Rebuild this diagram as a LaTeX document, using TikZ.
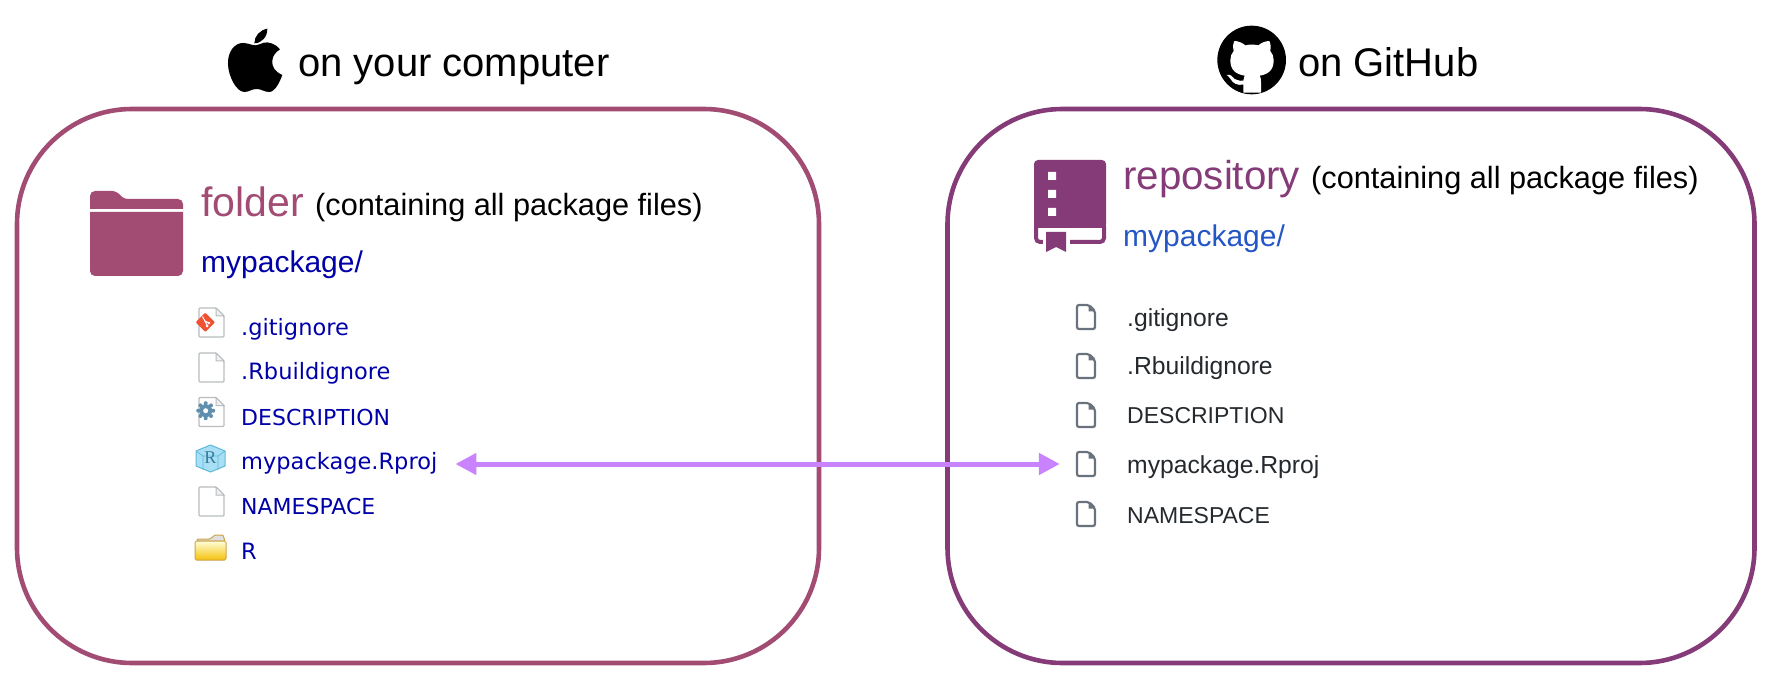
\documentclass[tikz,border=0pt]{standalone}
\usepackage{fontspec}
\setmainfont{Liberation Sans}
\newfontfamily\listfont{DejaVu Sans}
\newfontfamily\cubefont{Liberation Serif}
\usetikzlibrary{positioning}
\usetikzlibrary{arrows.meta}
\definecolor{folderplum}{HTML}{A24C73}
\definecolor{repoplum}{HTML}{853B77}
\definecolor{rstudioblue}{HTML}{0000A8}
\definecolor{ghblue}{HTML}{2457C5}
\definecolor{ghgrey}{HTML}{6A737D}
\definecolor{ghtext}{HTML}{24292E}
\definecolor{linkarrow}{HTML}{C983FF}
\definecolor{iconedge}{HTML}{B9BDC0}
\definecolor{gitorange}{HTML}{F05133}
\definecolor{gearblue}{HTML}{5F8FAF}
\definecolor{cubeblue}{HTML}{A9DFF5}
\definecolor{cubeedge}{HTML}{5CBAD8}
\definecolor{cubeletter}{HTML}{3A7A9F}
\definecolor{tanedge}{HTML}{CFA24C}
\tikzset{
	pkgbox/.style={draw,line width=4.6pt,rounded corners=115pt,inner sep=0pt},
	heading/.style={anchor=base west,inner sep=0pt,font=\fontsize{40}{48}\selectfont},
	boxname/.style={anchor=base west,inner sep=0pt,font=\fontsize{41}{48}\selectfont},
	reponame/.style={anchor=base west,inner sep=0pt,font=\fontsize{40.3}{48}\selectfont},
	note/.style={anchor=base west,inner sep=0pt,font=\fontsize{30.7}{36}\selectfont},
	pkgname/.style={anchor=base west,inner sep=0pt,font=\fontsize{30}{36}\selectfont},
	rfile/.style={anchor=base west,inner sep=0pt,text=rstudioblue,font=\listfont\fontsize{22.5}{27}\selectfont},
	rfilecaps/.style={rfile,font=\listfont\fontsize{22}{27}\selectfont},
	ghfile/.style={anchor=base west,inner sep=0pt,text=ghtext,font=\fontsize{24.7}{29}\selectfont},
	ghfilecaps/.style={ghfile,font=\fontsize{23}{29}\selectfont},
	blankpage/.pic={
		\draw[iconedge,line width=1.4pt,fill=white,rounded corners=1pt] (-12.5,-14.5) -- (4.5,-14.5) -- (12.5,-6.5) -- (12.5,14.5) -- (-12.5,14.5) -- cycle;
		\draw[iconedge,line width=1pt,fill=black!6] (4.5,-14.5) -- (4.5,-6.5) -- (12.5,-6.5) -- cycle;
	},
	ghpage/.pic={
		\draw[ghgrey,line width=2.2pt,rounded corners=2pt] (-9,-12) -- (3,-12) -- (9,-6) -- (9,12) -- (-9,12) -- cycle;
		\fill[ghgrey] (2.5,-11) -- (2.5,-5.5) -- (8,-5.5) -- cycle;
	},
}
\begin{document}
\begin{tikzpicture}[x=1pt,y=-1pt]
	\useasboundingbox (0,0) rectangle (1772,700);

	% the two rounded boxes
	\node[pkgbox,color=folderplum,minimum width=802pt,minimum height=554pt] (computer) at (418,386) {};
	\node[pkgbox,color=repoplum,minimum width=807pt,minimum height=554pt] (github) at (1351,386) {};

	% titles
	\node[heading] (computertitle) at (298,77) {on your computer};
	\node[heading] (githubtitle) at (1298,77) {on GitHub};

	% apple logo
	\begin{scope}[shift={(60,20)},x=.3333pt,y=-.3333pt]
		\fill (588,76) .. controls (572,76) and (555,65) .. (540,70)
			.. controls (515,77) and (503,105) .. (504,132)
			.. controls (505,170) and (530,216) .. (553,216)
			.. controls (567,216) and (575,207) .. (590,207)
			.. controls (605,207) and (612,216) .. (628,216)
			.. controls (645,216) and (660,185) .. (667,165)
			.. controls (645,155) and (635,140) .. (637,122)
			.. controls (638,105) and (650,95) .. (660,88)
			.. controls (645,70) and (625,65) .. (612,68)
			.. controls (602,70) and (595,76) .. (588,76) -- cycle;
		\fill (583,70) .. controls (583,48) and (600,30) .. (622,26)
			.. controls (623,50) and (605,70) .. (583,70) -- cycle;
	\end{scope}

	% github logo
	\begin{scope}[shift={(1200,15)},x=.3333pt,y=-.3333pt]
		\fill (155,135) circle[radius=103];
		\fill[white] (103,78) .. controls (115,78) and (128,84) .. (136,91)
			.. controls (148,88) and (163,88) .. (175,91)
			.. controls (183,84) and (196,78) .. (208,78)
			.. controls (213,90) and (213,100) .. (211,108)
			.. controls (218,116) and (221,125) .. (221,136)
			.. controls (221,165) and (205,178) .. (179,182)
			.. controls (182,186) and (183,192) .. (183,200) -- (183,233) -- (130,233) -- (130,208)
			.. controls (112,212) and (100,205) .. (92,192)
			.. controls (88,186) and (84,182) .. (80,180)
			.. controls (92,176) and (98,186) .. (104,192)
			.. controls (112,198) and (122,197) .. (130,195)
			.. controls (130,190) and (132,186) .. (134,182)
			.. controls (108,178) and (91,165) .. (91,136)
			.. controls (91,125) and (94,116) .. (101,108)
			.. controls (98,100) and (98,90) .. (103,78) -- cycle;
		\fill (100,184) .. controls (108,192) and (115,198) .. (130,197) -- (130,188) .. controls (118,188) and (112,182) .. (100,176) -- cycle;
		\fill[white] (84,181) .. controls (96,180) and (100,194) .. (112,200) .. controls (118,203) and (124,203) .. (130,202) -- (130,208) .. controls (112,212) and (100,205) .. (92,192) -- cycle;
	\end{scope}

	% big folder icon
	\fill[folderplum] (90,209) [rounded corners=5pt] -- (90,191) -- (117,191) -- (123,199) -- (183,199) [sharp corners] -- (183,209) -- cycle;
	\fill[folderplum] (90,212) [rounded corners=5pt] -- (90,276) -- (183,276) [sharp corners] -- (183,212) -- cycle;
	\node[boxname,text=folderplum] (foldertext) at (201,217) {folder};
	\node[note] (foldernote) at (315,216) {(containing all package files)};
	\node[pkgname,text=rstudioblue] (foldername) at (201,273) {mypackage/};

	% big repository icon
	\fill[repoplum,rounded corners=4pt] (1034,228) -- (1034,160) -- (1106,160) -- (1106,228) -- cycle;
	\fill[repoplum] (1034,220) rectangle (1106,228);
	\draw[repoplum,line width=4pt,rounded corners=4pt] (1036,226) -- (1036,242) -- (1104,242) -- (1104,226);
	\fill[white] (1043,236) rectangle (1070,246);
	\fill[white] (1048,172) rectangle (1056,180) (1048,190) rectangle (1056,198) (1048,208) rectangle (1056,216);
	\fill[repoplum] (1046,232) -- (1066,232) -- (1066,252) -- (1056,247) -- (1046,252) -- cycle;
	\node[reponame,text=repoplum] (repotext) at (1123,190) {repository};
	\node[note] (reponote) at (1311,189) {(containing all package files)};
	\node[pkgname,text=ghblue] (reponame) at (1123,247) {mypackage/};

	% files on the computer
	\pic at (211.5,322.5) {blankpage};
	\fill[gitorange,rounded corners=1pt] (205.3,312.6) -- (215,322.3) -- (205.3,332) -- (195.6,322.3) -- cycle;
	\draw[white,line width=1pt] (202.5,316.5) -- (207,325) (205,321) -- (209,323);
	\fill[white] (207,326) circle[radius=1.5] (209,323) circle[radius=1.3];
	\node[rfile] (rgitignore) at (241,336) {.gitignore};

	\pic at (211.5,367.5) {blankpage};
	\node[rfile] (rbuildignore) at (241,380) {.Rbuildignore};

	\pic at (211.5,412) {blankpage};
	\foreach \a in {0,45,...,315}
		\fill[gearblue] (205.7,410.7)++(\a:7.5) circle[radius=2];
	\fill[gearblue] (205.7,410.7) circle[radius=6.5];
	\fill[white] (205.7,410.7) circle[radius=2.5];
	\node[rfilecaps] (rdescription) at (241,425) {DESCRIPTION};

	\draw[cubeedge,line width=1pt,fill=cubeblue] (196,451) -- (210.5,445) -- (225,451) -- (225,466) -- (210.5,472) -- (196,466) -- cycle;
	\draw[cubeedge,line width=.7pt] (196,451) -- (203,456) -- (218,456) -- (225,451) (203,456) -- (203,470) (218,456) -- (218,470);
	\node[inner sep=0pt,text=cubeletter,font=\cubefont\fontsize{18}{18}\selectfont] (rcube) at (210.5,458) {R};
	\node[rfile] (rproj) at (241,469) {mypackage.Rproj};

	\pic at (211.5,501.5) {blankpage};
	\node[rfilecaps] (rnamespace) at (241,514) {NAMESPACE};

	\draw[tanedge,line width=1pt,fill=black!12,rounded corners=1pt] (197,541) -- (197,539) -- (210,539) -- (215,535) -- (223,535) -- (225,541) -- cycle;
	\draw[tanedge,line width=1pt,top color=yellow!15,bottom color=yellow!60!orange!85!brown,rounded corners=1.5pt] (195,541) -- (226,541) -- (226,560) -- (195,560) -- cycle;
	\node[rfile] (rfolder) at (241,559) {R};

	% files on github
	\pic at (1086,317) {ghpage};
	\node[ghfile] (ghgitignore) at (1127,327) {.gitignore};
	\pic at (1086,366) {ghpage};
	\node[ghfile] (ghbuildignore) at (1127,375) {.Rbuildignore};
	\pic at (1086,415) {ghpage};
	\node[ghfilecaps] (ghdescription) at (1127,423) {DESCRIPTION};
	\node[inner sep=0pt,minimum width=20pt,minimum height=25pt] (ghproj) at (1086,464) {};
	\pic at (ghproj) {ghpage};
	\node[ghfile] (ghprojtext) at (1127,473) {mypackage.Rproj};
	\pic at (1086,514) {ghpage};
	\node[ghfilecaps] (ghnamespace) at (1127,523) {NAMESPACE};

	% same file in both places
	\draw[{Triangle[length=21pt,width=21pt]}-{Triangle[length=21pt,width=21pt]},linkarrow,line width=5pt,shorten <=18pt,shorten >=16pt] (rproj.east |- ghproj) -- (ghproj);
\end{tikzpicture}
\end{document}
